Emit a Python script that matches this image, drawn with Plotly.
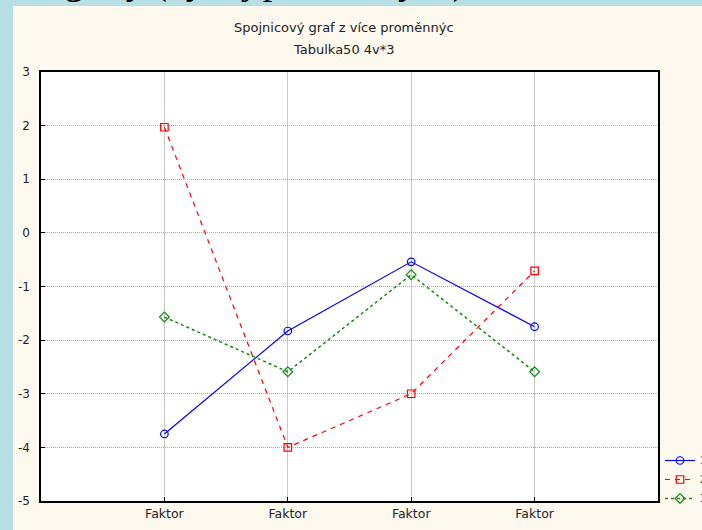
import plotly.graph_objects as go

categories = ["Faktor", "Faktor", "Faktor", "Faktor"]
x_pos = [1, 2, 3, 4]
series_names = ["1", "2", "3"]
s1 = [-3.75, -1.83, -0.54, -1.75]
s2 = [1.97, -4.0, -3.0, -0.71]
s3 = [-1.57, -2.59, -0.78, -2.59]
y_ticks = [3, 2, 1, 0, -1, -2, -3, -4, -5]
y_labels = ["3", "2", "1", "0", "-1", "-2", "-3", "-4", "-5"]

W, H = 702, 530
L, R, T, B = 41, 658, 72, 501


def px_x(p):
    return (p - L) / (R - L)


def px_y(p):
    return (B - p) / (B - T)


fig = go.Figure()
fig.add_trace(go.Scatter(x=x_pos, y=s1, name=series_names[0], mode="lines+markers",
                         line=dict(color="#0000FF", width=1.2),
                         marker=dict(symbol="circle-open", size=7.5, color="#0000FF", line=dict(width=1.2))))
fig.add_trace(go.Scatter(x=x_pos, y=s2, name=series_names[1], mode="lines+markers",
                         line=dict(color="#FF0000", width=1.2, dash="5px,5px"),
                         marker=dict(symbol="square-open", size=7.5, color="#FF0000", line=dict(width=1.2))))
fig.add_trace(go.Scatter(x=x_pos, y=s3, name=series_names[2], mode="lines+markers",
                         line=dict(color="#108A10", width=1.5, dash="dot"),
                         marker=dict(symbol="diamond-open", size=7.5, color="#108A10", line=dict(width=1.2))))

shapes = [
    dict(type="rect", xref="paper", yref="paper", x0=px_x(13), x1=px_x(710), y0=px_y(540), y1=px_y(6),
         fillcolor="#FEF9EE", line=dict(width=0), layer="below"),
    dict(type="rect", xref="paper", yref="paper", x0=0, x1=1, y0=0, y1=1,
         fillcolor="#FFFFFF", line=dict(width=0), layer="below"),
]

annotations = [
    dict(text="Spojnicový graf z více proměnnýc", xref="paper", yref="paper", x=px_x(344), y=px_y(27),
         showarrow=False, xanchor="center", yanchor="middle",
         font=dict(family="DejaVu Sans", size=13, color="#222222")),
    dict(text="Tabulka50 4v*3", xref="paper", yref="paper", x=px_x(344), y=px_y(50),
         showarrow=False, xanchor="center", yanchor="middle",
         font=dict(family="DejaVu Sans", size=13, color="#222222")),
    dict(text="Spojnicové grafy (vývoj proměnných)", xref="paper", yref="paper", x=px_x(-118), y=px_y(5),
         showarrow=False, xanchor="left", yanchor="bottom",
         font=dict(family="Liberation Serif", size=38, color="#000000")),
]

fig.update_layout(
    width=W, height=H,
    margin=dict(l=L, r=W - R, t=T, b=H - B, pad=0, autoexpand=False),
    paper_bgcolor="#B8DFE3",
    plot_bgcolor="#FFFFFF",
    shapes=shapes,
    annotations=annotations,
    showlegend=True,
    legend=dict(x=px_x(660), y=px_y(446), xanchor="left", yanchor="top",
                bgcolor="rgba(0,0,0,0)", font=dict(family="DejaVu Sans", size=10, color="#222222"),
                tracegroupgap=0, itemwidth=30),
    font=dict(family="DejaVu Sans", size=12, color="#222222"),
)

fig.update_xaxes(range=[0, 5], tickvals=x_pos, ticktext=categories,
                 showgrid=True, gridcolor="#C8C8C8", gridwidth=1,
                 showline=True, linecolor="#000000", linewidth=1.5, mirror=True,
                 ticks="inside", ticklen=4, tickcolor="#000000",
                 zeroline=False, tickfont=dict(family="DejaVu Sans", size=12.5, color="#222222"))
fig.update_yaxes(range=[-5, 3], tickvals=y_ticks, ticktext=y_labels,
                 showgrid=True, gridcolor="#ABABAB", gridwidth=1, griddash="1px,1px",
                 showline=True, linecolor="#000000", linewidth=1.5, mirror=True,
                 ticks="inside", ticklen=4, tickcolor="#000000",
                 zeroline=False, ticklabelstandoff=7,
                 tickfont=dict(family="DejaVu Sans", size=12, color="#222222"))

fig.write_html("out.html", config={"displayModeBar": False},
               post_script="document.body.style.margin='0';document.body.style.overflow='hidden';")
